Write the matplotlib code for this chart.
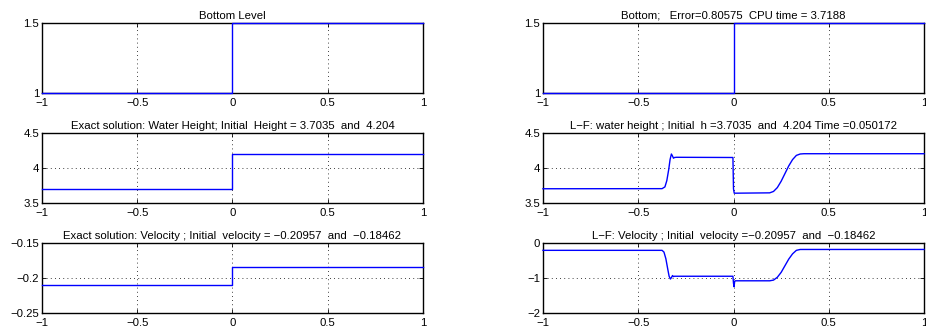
import matplotlib
matplotlib.use('Agg')
import matplotlib.pyplot as plt

plt.rcParams['font.family'] = ['Liberation Sans', 'DejaVu Sans']
plt.rcParams['font.size'] = 8.2

# exact solution (left column)
x_step = [-1, 0, 0, 1]
bottom = [1, 1, 1.5, 1.5]
h_exact = [3.7035, 3.7035, 4.204, 4.204]
u_exact = [-0.20957, -0.20957, -0.18462, -0.18462]

# Lax-Friedrichs solution (right column)
x_lf_h = [-1, -0.375, -0.36, -0.35, -0.34, -0.333, -0.326, -0.32, -0.315, -0.31,
          -0.30, -0.003, 0.0, 0.004, 0.19, 0.21, 0.23, 0.25, 0.27, 0.29, 0.31,
          0.33, 0.35, 0.37, 1]
h_lf = [3.7035, 3.705, 3.73, 3.82, 3.98, 4.12, 4.20, 4.17, 4.14, 4.15,
        4.153, 4.15, 3.70, 3.64, 3.645, 3.665, 3.72, 3.81, 3.92, 4.03, 4.12,
        4.18, 4.20, 4.204, 4.204]

x_lf_u = [-1, -0.375, -0.365, -0.355, -0.345, -0.338, -0.331, -0.325, -0.32,
          -0.315, -0.31, -0.3, -0.003, 0.0, 0.003, 0.006, 0.01, 0.19, 0.21,
          0.23, 0.25, 0.27, 0.29, 0.31, 0.33, 0.35, 0.37, 1]
u_lf = [-0.20957, -0.21, -0.26, -0.45, -0.75, -0.95, -1.03, -0.98, -0.93,
        -0.96, -0.95, -0.95, -0.95, -1.15, -1.25, -1.1, -1.08, -1.08, -1.06,
        -0.98, -0.84, -0.65, -0.46, -0.31, -0.21, -0.185, -0.18462, -0.18462]

xticks = [-1, -0.5, 0, 0.5, 1]
xlabels = ['\u22121', '\u22120.5', '0', '0.5', '1']

titles = ['Bottom Level',
          'Bottom;   Error=0.80575  CPU time = 3.7188',
          'Exact solution: Water Height; Initial  Height = 3.7035  and  4.204',
          'L\u2212F: water height ; Initial  h =3.7035  and  4.204 Time =0.050172',
          'Exact solution: Velocity ; Initial  velocity = \u22120.20957  and  \u22120.18462',
          'L\u2212F: Velocity ; Initial  velocity =\u22120.20957  and  \u22120.18462']

ylims = [(1, 1.5), (1, 1.5), (3.5, 4.5), (3.5, 4.5), (-0.25, -0.15), (-2, 0)]
yticks = [[1, 1.5], [1, 1.5], [3.5, 4, 4.5], [3.5, 4, 4.5],
          [-0.25, -0.2, -0.15], [-2, -1, 0]]
ylabels = [['1', '1.5'], ['1', '1.5'], ['3.5', '4', '4.5'], ['3.5', '4', '4.5'],
           ['\u22120.25', '\u22120.2', '\u22120.15'], ['\u22122', '\u22121', '0']]

series = [(x_step, bottom), (x_step, bottom), (x_step, h_exact),
          (x_lf_h, h_lf), (x_step, u_exact), (x_lf_u, u_lf)]

fig = plt.figure(figsize=(9.26, 3.34), dpi=100)
lefts = [42 / 926, 543 / 926]
width = 381 / 926
bottoms = [1 - 93 / 334, 1 - 203 / 334, 1 - 313 / 334]
height = 70 / 334

for k in range(6):
    row, col = k // 2, k % 2
    ax = fig.add_axes([lefts[col], bottoms[row], width, height])
    xs, ys = series[k]
    ax.plot(xs, ys, color='#0000ff', linewidth=1.0, clip_on=False, zorder=3)
    ax.set_xlim(-1, 1)
    ax.set_ylim(*ylims[k])
    ax.set_xticks(xticks)
    ax.set_xticklabels(xlabels)
    ax.set_yticks(yticks[k])
    ax.set_yticklabels(ylabels[k])
    ax.grid(True, color='black', linestyle=(0, (1, 4)), linewidth=0.6)
    ax.tick_params(direction='in', length=3, width=0.6, top=True, right=True)
    ax.tick_params(axis='x', pad=3.5)
    ax.tick_params(axis='y', pad=2)
    for s in ax.spines.values():
        s.set_linewidth(1.0)
    ax.set_title(titles[k], fontsize=8.2, pad=3)

fig.savefig('out.png', dpi=100)
